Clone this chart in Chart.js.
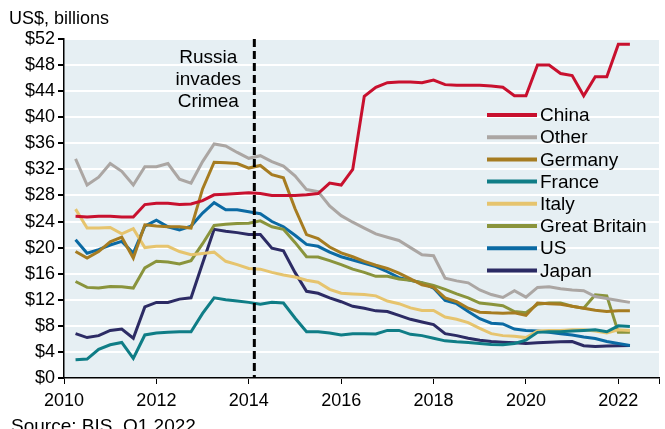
<!DOCTYPE html>
<html lang="en">
<head>
    <meta charset="UTF-8">
    <title>Cross-border claims by country</title>
    <style>
        body {
            margin: 0;
            background-color: #fff;
        }
        .wrap {
            width: 665px;
            height: 429px;
        }
    </style>
</head>
<body>
    <div class="wrap">
        <canvas id="chart" width="665" height="429"></canvas>
    </div>
    <script src="https://cdn.jsdelivr.net/npm/chart.js"></script>
    <script>
        const quarters = [
            '2010Q1','2010Q2','2010Q3','2010Q4','2011Q1','2011Q2','2011Q3','2011Q4',
            '2012Q1','2012Q2','2012Q3','2012Q4','2013Q1','2013Q2','2013Q3','2013Q4',
            '2014Q1','2014Q2','2014Q3','2014Q4','2015Q1','2015Q2','2015Q3','2015Q4',
            '2016Q1','2016Q2','2016Q3','2016Q4','2017Q1','2017Q2','2017Q3','2017Q4',
            '2018Q1','2018Q2','2018Q3','2018Q4','2019Q1','2019Q2','2019Q3','2019Q4',
            '2020Q1','2020Q2','2020Q3','2020Q4','2021Q1','2021Q2','2021Q3','2021Q4',
            '2022Q1'
        ];

        const china = [24.8,24.7,24.8,24.8,24.7,24.7,26.6,26.8,26.8,26.6,26.7,27.2,28.1,28.2,28.3,28.4,28.3,28.0,28.0,28.0,28.1,28.3,29.9,29.6,32.0,43.2,44.6,45.3,45.4,45.4,45.3,45.7,45.0,44.9,44.9,44.9,44.8,44.6,43.3,43.3,48.0,48.0,46.7,46.4,43.3,46.2,46.2,51.2,51.2];
        const other = [33.6,29.6,30.8,32.9,31.7,29.6,32.4,32.4,32.9,30.5,29.9,33.2,35.9,35.6,34.6,33.7,34.1,33.2,32.5,31.0,28.9,28.6,26.4,24.9,23.9,23.0,22.1,21.6,21.1,20.0,18.9,18.75,15.3,14.9,14.6,13.5,12.8,12.35,13.4,12.4,13.9,14.0,13.7,13.5,13.4,12.5,12.2,11.9,11.6];
        const germany = [19.4,18.4,19.4,20.9,21.6,18.4,23.5,23.3,23.2,23.2,23.0,29.0,33.1,33.0,32.9,32.2,32.6,31.2,30.7,26.0,22.0,21.4,20.1,19.2,18.6,17.9,17.3,16.8,16.1,15.2,14.3,13.9,12.3,11.7,10.7,10.1,10.0,9.95,10.0,9.6,11.5,11.4,11.3,11.0,10.7,10.4,10.2,10.3,10.3];
        const france = [2.8,2.9,4.4,5.1,5.45,3.0,6.6,6.9,7.0,7.1,7.1,9.9,12.3,12.0,11.8,11.6,11.3,11.6,11.5,9.2,7.1,7.1,6.9,6.6,6.8,6.8,6.75,7.3,7.3,6.7,6.5,6.1,5.7,5.55,5.45,5.3,5.15,5.1,5.3,5.8,7.0,7.1,7.1,7.2,7.3,7.4,7.1,8.0,7.9];
        const italy = [25.9,23.0,23.0,23.1,22.1,22.9,20.0,20.2,20.2,19.4,18.9,19.1,19.3,17.9,17.4,16.8,16.7,16.2,15.8,15.5,15.0,14.7,13.6,13.0,12.9,12.8,12.6,11.8,11.4,10.75,10.35,10.35,9.35,9.0,8.5,7.6,6.8,6.5,6.4,6.2,7.2,7.3,7.3,7.4,7.4,7.2,6.9,7.4,7.3];
        const greatBritain = [14.8,13.9,13.8,14.05,14.0,13.8,16.9,17.9,17.8,17.5,18.0,20.6,23.4,23.6,23.7,23.75,24.1,23.2,22.8,20.8,18.6,18.55,18.0,17.4,16.7,16.2,15.6,15.6,15.2,15.0,14.6,14.2,13.6,12.9,12.3,11.5,11.3,11.1,10.2,10.0,11.3,11.5,11.5,11.0,10.7,12.75,12.6,7.0,7.0];
        const us = [21.2,19.15,19.7,20.4,20.95,19.15,23.3,24.2,23.2,22.7,23.3,25.3,26.9,25.8,25.8,25.5,25.2,24.0,23.2,21.9,20.5,20.2,19.3,18.6,18.1,17.6,17.1,16.3,15.4,15.0,14.6,13.8,11.9,11.4,10.2,9.1,8.4,8.3,7.5,7.3,7.2,7.0,6.8,6.6,6.3,6.05,5.6,5.3,5.0];
        const japan = [6.8,6.2,6.5,7.3,7.5,6.1,10.9,11.6,11.6,12.1,12.3,17.6,22.8,22.5,22.3,22.0,22.0,19.9,19.5,16.2,13.3,13.0,12.3,11.7,11.0,10.7,10.3,10.2,9.6,9.0,8.6,8.2,6.8,6.5,6.1,5.8,5.6,5.5,5.4,5.3,5.4,5.5,5.55,5.6,4.95,4.85,4.9,4.95,5.0];

        const seriesNames = ['China', 'Other', 'Germany', 'France', 'Italy', 'Great Britain', 'US', 'Japan'];
        const seriesValues = [china, other, germany, france, italy, greatBritain, us, japan];
        const seriesColors = ['#c8102e', '#aba6a3', '#a67c21', '#0f7d86', '#e6c46e', '#8a943c', '#0b6aa3', '#2c2b64'];

        const yTicks = [0, 4, 8, 12, 16, 20, 24, 28, 32, 36, 40, 44, 48, 52];
        const xTickYears = [2010, 2012, 2014, 2016, 2018, 2020, 2022];
        const crimeaDate = 2014.12;
        const crimeaLabel = ['Russia', 'invades', 'Crimea'];

        const fontName = '"Liberation Sans", Arial, sans-serif';

        // quarter label -> decimal year at quarter end
        function quarterToX(q) {
            return parseInt(q.slice(0, 4)) + parseInt(q.slice(5)) / 4;
        }

        const datasets = seriesNames.map((name, i) => ({
            label: name,
            data: seriesValues[i].map((v, j) => ({ x: quarterToX(quarters[j]), y: v })),
            borderColor: seriesColors[i],
            backgroundColor: seriesColors[i],
            borderWidth: 3,
            pointRadius: 0,
            tension: 0,
            fill: false
        }));

        const plotBackground = {
            id: 'plotBackground',
            beforeDraw(chart) {
                const { ctx, chartArea } = chart;
                ctx.save();
                ctx.fillStyle = '#e6eff3';
                ctx.fillRect(chartArea.left, chartArea.top, chartArea.right - chartArea.left, chartArea.bottom - chartArea.top);
                ctx.restore();
            }
        };

        const extras = {
            id: 'extras',
            afterDatasetsDraw(chart) {
                const { ctx, chartArea, scales } = chart;
                ctx.save();

                // Crimea marker
                const xc = scales.x.getPixelForValue(crimeaDate);
                ctx.strokeStyle = '#000';
                ctx.lineWidth = 3;
                ctx.setLineDash([8, 4]);
                ctx.beginPath();
                ctx.moveTo(xc, chartArea.top);
                ctx.lineTo(xc, chartArea.bottom);
                ctx.stroke();
                ctx.setLineDash([]);

                ctx.fillStyle = '#000';
                ctx.font = '19px ' + fontName;
                ctx.textAlign = 'center';
                ctx.textBaseline = 'middle';
                crimeaLabel.forEach((t, i) => {
                    ctx.fillText(t, xc - 46, chartArea.top + 19 + i * 22);
                });

                // legend
                ctx.textAlign = 'left';
                seriesNames.forEach((name, i) => {
                    const y = 115 + i * 22.2;
                    ctx.strokeStyle = seriesColors[i];
                    ctx.lineWidth = 4;
                    ctx.beginPath();
                    ctx.moveTo(487, y);
                    ctx.lineTo(537, y);
                    ctx.stroke();
                    ctx.fillStyle = '#000';
                    ctx.fillText(name, 540, y + 1);
                });

                // unit label and source
                ctx.font = '18px ' + fontName;
                ctx.textBaseline = 'alphabetic';
                ctx.fillText('US$, billions', 9, 24);
                ctx.font = '19px ' + fontName;
                ctx.fillText('Source: BIS, Q1 2022', 11, 432);
                ctx.restore();
            }
        };

        const ctx = document.getElementById('chart').getContext('2d');
        const chart = new Chart(ctx, {
            type: 'line',
            data: { datasets: datasets },
            options: {
                responsive: false,
                animation: false,
                layout: { padding: { top: 39, right: 2, left: 0, bottom: 0 } },
                plugins: {
                    legend: { display: false },
                    tooltip: { enabled: false }
                },
                scales: {
                    x: {
                        type: 'linear',
                        min: 2010,
                        max: 2022.88,
                        afterFit(scale) { scale.height = 51; },
                        afterBuildTicks(scale) {
                            scale.ticks = xTickYears.map(v => ({ value: v })).concat([{ value: 2022.88 }]);
                        },
                        grid: { drawOnChartArea: false, color: '#000', tickLength: 6 },
                        border: { color: '#000', width: 1.5 },
                        ticks: {
                            color: '#000',
                            padding: 6,
                            maxRotation: 0,
                            autoSkip: false,
                            font: { family: fontName, size: 18 },
                            callback: v => xTickYears.includes(v) ? String(v) : ''
                        }
                    },
                    y: {
                        min: 0,
                        max: 52,
                        afterFit(scale) { scale.width = 64; },
                        afterBuildTicks(scale) {
                            scale.ticks = yTicks.map(v => ({ value: v }));
                        },
                        grid: { color: '#fff', lineWidth: 2, tickColor: '#000', tickLength: 6 },
                        border: { color: '#000', width: 1.5 },
                        ticks: {
                            color: '#000',
                            padding: 3,
                            font: { family: fontName, size: 18 },
                            callback: v => '$' + v
                        }
                    }
                }
            },
            plugins: [plotBackground, extras]
        });
    </script>
</body>
</html>
